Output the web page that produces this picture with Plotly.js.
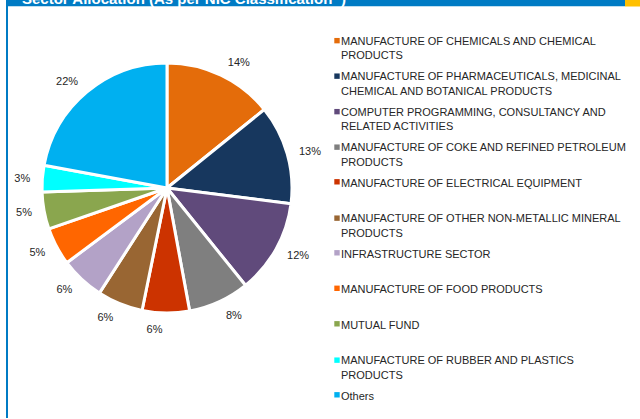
<!DOCTYPE html>
<html>
<head>
<meta charset="utf-8">
<script src="https://cdn.plot.ly/plotly-3.0.1.min.js"></script>
<style>
  html, body { margin: 0; padding: 0; background: #fff; }
  #chart { width: 640px; height: 419px; }
</style>
</head>
<body>
<div id="chart"></div>
<script>
const categories = [
  "MANUFACTURE OF CHEMICALS AND CHEMICAL<br>PRODUCTS",
  "MANUFACTURE OF PHARMACEUTICALS, MEDICINAL<br>CHEMICAL AND BOTANICAL PRODUCTS",
  "COMPUTER PROGRAMMING, CONSULTANCY AND<br>RELATED ACTIVITIES",
  "MANUFACTURE OF COKE AND REFINED PETROLEUM<br>PRODUCTS",
  "MANUFACTURE OF ELECTRICAL EQUIPMENT",
  "MANUFACTURE OF OTHER NON-METALLIC MINERAL<br>PRODUCTS",
  "INFRASTRUCTURE SECTOR",
  "MANUFACTURE OF FOOD PRODUCTS",
  "MUTUAL FUND",
  "MANUFACTURE OF RUBBER AND PLASTICS<br>PRODUCTS",
  "Others"
];
const allocation = [14.2, 12.8, 12.2, 7.9, 6.1, 5.9, 5.7, 4.9, 4.8, 3.4, 22.1];
const sliceColors = ["#E46C0A", "#17375E", "#604A7B", "#7F7F7F", "#CC3300", "#996633",
                     "#B3A2C7", "#FF6600", "#8AA64E", "#00FFFF", "#00B0F0"];
const chartTitle = "Sector Allocation (As per NIC Classification^)";

const W = 640, H = 419;
const px = v => v / W, py = v => 1 - v / H;
const FONT = "Arial, 'Liberation Sans', sans-serif";

const data = [
  {
    type: "pie",
    labels: categories,
    values: allocation,
    sort: false,
    direction: "clockwise",
    rotation: 0,
    marker: { colors: sliceColors, line: { color: "#ffffff", width: 3 } },
    textinfo: "none",
    hoverinfo: "none",
    domain: { x: [px(42), px(292)], y: [py(313), py(63)] }
  },
  {
    type: "pie",
    labels: categories,
    values: allocation,
    sort: false,
    direction: "clockwise",
    rotation: 0,
    showlegend: false,
    marker: { colors: allocation.map(() => "rgba(0,0,0,0)"), line: { width: 0 } },
    textposition: "outside",
    texttemplate: "%{percent:.0%}",
    outsidetextfont: { family: FONT, size: 11, color: "#262626" },
    hoverinfo: "none",
    domain: { x: [px(33), px(301)], y: [py(322), py(54)] }
  }
];

const layout = {
  width: W, height: H,
  margin: { l: 0, r: 0, t: 0, b: 0 },
  paper_bgcolor: "#ffffff",
  showlegend: true,
  legend: {
    x: px(301), xanchor: "left",
    y: py(26), yanchor: "top",
    font: { family: FONT, size: 11, color: "#262626" },
    valign: "top",
    bgcolor: "rgba(0,0,0,0)",
    borderwidth: 0
  },
  shapes: [
    { type: "rect", xref: "paper", yref: "paper", x0: px(6), x1: px(625), y0: py(6.5), y1: 1,
      fillcolor: "#007BC4", line: { width: 0 }, layer: "below" },
    { type: "rect", xref: "paper", yref: "paper", x0: px(625), x1: 1, y0: py(6.5), y1: 1,
      fillcolor: "#FFC000", line: { width: 0 }, layer: "above" },
    { type: "rect", xref: "paper", yref: "paper", x0: px(6), x1: px(8), y0: py(418), y1: 1,
      fillcolor: "#007BC4", line: { width: 0 }, layer: "above" },
    { type: "rect", xref: "paper", yref: "paper", x0: px(8), x1: px(625), y0: py(12), y1: py(6.5),
      fillcolor: "#ffffff", line: { width: 0 }, layer: "above" }
  ],
  annotations: [
    { text: chartTitle, xref: "paper", yref: "paper", x: px(20), y: py(9), xanchor: "left", yanchor: "bottom",
      showarrow: false, font: { family: FONT, size: 15, color: "#ffffff", weight: "bold" } }
  ]
};

Plotly.newPlot("chart", data, layout, { displayModeBar: false, staticPlot: true }).then(gd => {
  gd.querySelectorAll(".legend .scrollbox").forEach(s => s.removeAttribute("clip-path"));
  gd.querySelectorAll("path.textline").forEach(l => l.style.display = "none");
  const items = gd.querySelectorAll(".legend .traces");
  let base = null;
  items.forEach((g, i) => {
    const t = g.getAttribute("transform") || "";
    const m = /translate\(\s*([-\d.e]+)[ ,]+([-\d.e]+)\s*\)/.exec(t);
    if (!m) return;
    const x = parseFloat(m[1]), y = parseFloat(m[2]);
    if (base === null) base = y + 1;
    const nLines = g.querySelectorAll("tspan.line").length || 1;
    const shift = nLines === 1 ? -7.15 : 0;
    g.setAttribute("transform", `translate(${x},${base + i * 35.5 + shift})`);
    const txt = g.querySelector("text.legendtext");
    const tx = txt ? parseFloat(txt.getAttribute("x")) : 40;
    const p = g.querySelector("path.legendpie");
    if (p) {
      const pt = p.getAttribute("transform") || "";
      const pm = /translate\(\s*([-\d.e]+)[ ,]+([-\d.e]+)\s*\)/.exec(pt);
      const py0 = pm ? parseFloat(pm[2]) : 0;
      p.setAttribute("transform", `translate(${tx - 4},${py0}) scale(0.45)`);
      p.style.strokeWidth = "0";
    }
  });
});
</script>
</body>
</html>
